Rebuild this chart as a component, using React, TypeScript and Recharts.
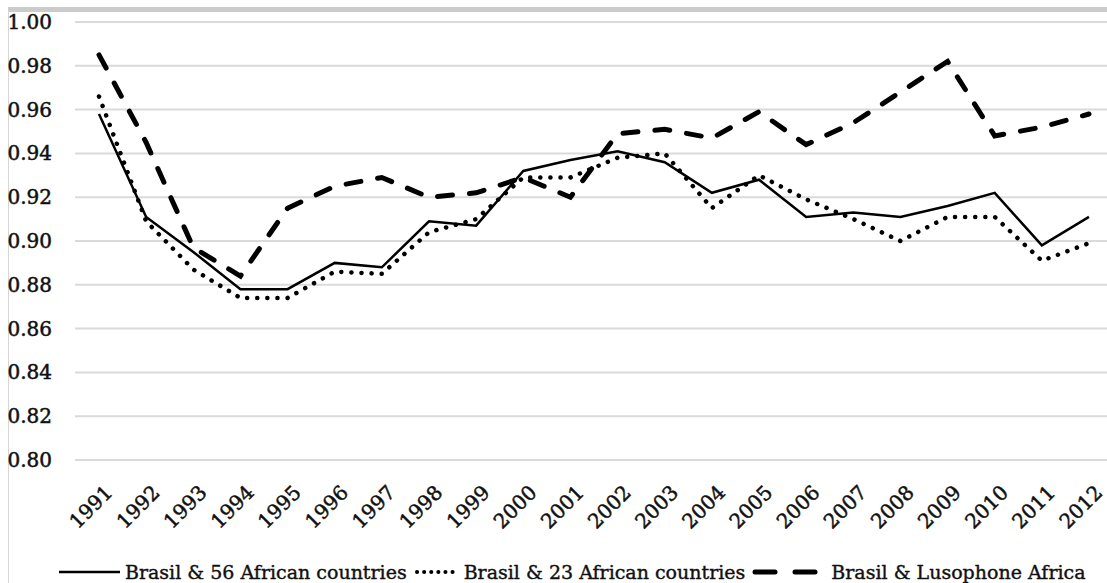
import { CartesianGrid, Legend, Line, LineChart, XAxis, YAxis } from "recharts"

// Trade similarity index, Brazil vs. African partner groups
const years = [
  "1991", "1992", "1993", "1994", "1995", "1996", "1997", "1998", "1999", "2000", "2001",
  "2002", "2003", "2004", "2005", "2006", "2007", "2008", "2009", "2010", "2011", "2012",
]
const brasil56 = [
  0.958, 0.911, 0.895, 0.878, 0.878, 0.89, 0.888, 0.909, 0.907, 0.932, 0.937,
  0.941, 0.936, 0.922, 0.928, 0.911, 0.913, 0.911, 0.916, 0.922, 0.898, 0.911,
]
const brasil23 = [
  0.966, 0.909, 0.887, 0.874, 0.874, 0.886, 0.885, 0.904, 0.91, 0.929, 0.929,
  0.938, 0.94, 0.915, 0.93, 0.919, 0.91, 0.9, 0.911, 0.911, 0.891, 0.899,
]
const lusophone = [
  0.985, 0.945, 0.897, 0.884, 0.915, 0.925, 0.929, 0.92, 0.922, 0.929, 0.92,
  0.949, 0.951, 0.947, 0.959, 0.944, 0.954, 0.968, 0.982, 0.948, 0.952, 0.958,
]
const yTicks = [0.8, 0.82, 0.84, 0.86, 0.88, 0.9, 0.92, 0.94, 0.96, 0.98, 1.0]

const seriesNames = {
  b56: "Brasil & 56 African countries",
  b23: "Brasil & 23 African countries",
  luso: "Brasil & Lusophone Africa",
}

const data = years.map((year, i) => ({
  year,
  b56: brasil56[i],
  b23: brasil23[i],
  luso: lusophone[i],
}))

const FONT = "'DejaVu Serif', 'Liberation Serif', serif"
const INK = "#111"

const YTick = (props: any) => {
  const { y, payload } = props
  return (
    <text
      x={52}
      y={y}
      textAnchor="end"
      dominantBaseline="central"
      fontFamily={FONT}
      fontSize={20}
      fill={INK}
      stroke={INK}
      strokeWidth={0.5}
    >
      {payload.value.toFixed(2)}
    </text>
  )
}

const XTick = (props: any) => {
  const { x, y, payload } = props
  return (
    <text
      transform={`translate(${x + 4},${y + 23}) rotate(-45)`}
      textAnchor="end"
      dominantBaseline="hanging"
      fontFamily={FONT}
      fontSize={20}
      fill={INK}
      stroke={INK}
      strokeWidth={0.5}
    >
      {payload.value}
    </text>
  )
}

// legend keys: long solid stroke, a row of round dots, two heavy dashes
const swatches: Record<string, { w: number; el: JSX.Element }> = {
  b56: { w: 64, el: <line x1={1} y1={8} x2={62} y2={8} stroke="#000" strokeWidth={2.5} /> },
  b23: {
    w: 48,
    el: <line x1={4} y1={8} x2={46} y2={8} stroke="#000" strokeWidth={4} strokeDasharray="0.1 7" strokeLinecap="round" />,
  },
  luso: {
    w: 72,
    el: <line x1={4} y1={8} x2={66} y2={8} stroke="#000" strokeWidth={5} strokeDasharray="20 20" strokeLinecap="round" />,
  },
}

const LegendRow = () => (
  <div
    style={{
      display: "flex",
      justifyContent: "flex-start",
      alignItems: "center",
      height: 22,
      paddingLeft: 58,
      fontFamily: FONT,
      fontSize: 19,
      color: INK,
      WebkitTextStroke: "0.4px #111",
      whiteSpace: "nowrap",
    }}
  >
    {(["b56", "b23", "luso"] as const).map((key) => (
      <div key={key} style={{ display: "flex", alignItems: "center", marginRight: 6 }}>
        <svg width={swatches[key].w} height={16} style={{ marginRight: key === "luso" ? 8 : 3 }}>
          {swatches[key].el}
        </svg>
        <span>{seriesNames[key]}</span>
      </div>
    ))}
  </div>
)

export default function App() {
  return (
    <div style={{ position: "absolute", left: 0, top: 0, width: 1107, height: 583, background: "#fff", overflow: "hidden" }}>
      {/* outer frame edges */}
      <div
        style={{
          position: "absolute",
          left: 8,
          top: 7,
          width: 1099,
          height: 576,
          borderTop: "5px solid #cbcbcb",
          borderLeft: "1px solid #d6d6d6",
          boxSizing: "border-box",
        }}
      />
      <div style={{ position: "absolute", left: 0, top: 0 }}>
        <LineChart width={1107} height={583} data={data} margin={{ top: 22, right: 0, left: 0, bottom: 0 }}>
          <CartesianGrid vertical={false} stroke="#dadada" strokeWidth={2} />
          <XAxis
            dataKey="year"
            interval={0}
            padding={{ left: 24, right: 18 }}
            axisLine={false}
            tickLine={false}
            tickSize={0}
            tickMargin={0}
            height={101}
            tick={<XTick />}
          />
          <YAxis
            domain={[0.8, 1.0]}
            ticks={yTicks}
            interval={0}
            width={75}
            axisLine={false}
            tickLine={false}
            tick={<YTick />}
          />
          <Legend verticalAlign="bottom" content={() => <LegendRow />} />
          <Line
            dataKey="b56"
            name={seriesNames.b56}
            type="linear"
            stroke="#000"
            strokeWidth={2.5}
            dot={false}
            isAnimationActive={false}
          />
          <Line
            dataKey="b23"
            name={seriesNames.b23}
            type="linear"
            stroke="#000"
            strokeWidth={4.5}
            strokeDasharray="0.1 10"
            strokeLinecap="round"
            dot={false}
            isAnimationActive={false}
          />
          <Line
            dataKey="luso"
            name={seriesNames.luso}
            type="linear"
            stroke="#000"
            strokeWidth={5}
            strokeDasharray="15 17"
            strokeLinecap="round"
            dot={false}
            isAnimationActive={false}
          />
        </LineChart>
      </div>
    </div>
  )
}
